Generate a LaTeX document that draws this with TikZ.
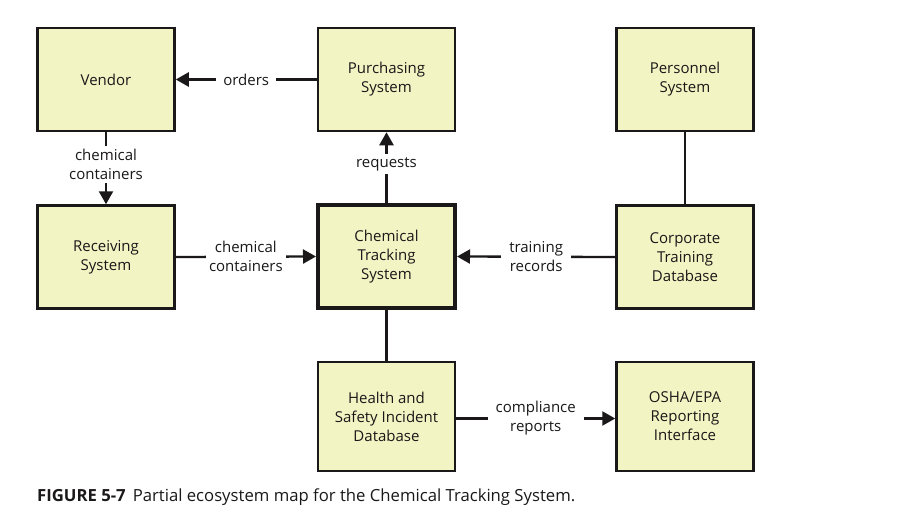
\documentclass[tikz,border=0pt]{standalone}
\usepackage{fontspec}
\setmainfont{Open Sans}
\usetikzlibrary{arrows.meta}
\definecolor{boxfill}{HTML}{F3F4C4}
\definecolor{ink}{HTML}{1A1818}
\tikzset{
  sysbox/.style={draw=ink, fill=boxfill, line width=2.5pt, minimum width=137pt, minimum height=103pt, inner sep=0pt,
    align=center, font=\fontsize{15}{19}\selectfont, text=ink},
  tallbox/.style={sysbox, minimum height=109pt},
  mainbox/.style={sysbox, line width=4pt},
  conn/.style={draw=ink, line width=2.3pt},
  arr/.style={conn, -{Triangle[length=13pt,width=14pt]}},
  lbl/.style={fill=white, inner sep=3pt, align=center, font=\fontsize{15}{19}\selectfont, text=ink}
}
\begin{document}
\begin{tikzpicture}[x=1pt,y=-1pt]
\useasboundingbox (0,0) rectangle (914,525);
\node[sysbox] (vendor) at (106,79.5) {Vendor};
\node[sysbox] (purch) at (386.5,79.5) {Purchasing\\System};
\node[sysbox] (pers) at (685,79.5) {Personnel\\System};
\node[sysbox] (recv) at (106,257) {Receiving\\System};
\node[mainbox] (cts) at (386.5,256.5) {Chemical\\Tracking\\System};
\node[sysbox] (corp) at (685,257) {Corporate\\Training\\Database};
\node[tallbox] (hsid) at (386.5,416.5) {Health and\\Safety Incident\\Database};
\node[tallbox] (osha) at (685,416.5) {OSHA/EPA\\Reporting\\Interface};

\draw[arr] (purch.west) -- node[lbl, inner xsep=7pt] {orders} (vendor.east);
\draw[arr] (vendor.south) -- node[lbl, pos=0.45] {chemical\\containers} (recv.north);
\draw[arr] (recv.east) -- node[lbl, pos=0.5] {chemical\\containers} (cts.west);
\draw[arr] (cts.north) -- node[lbl, pos=0.55] {requests} (purch.south);
\draw[arr] (corp.west) -- node[lbl, inner xsep=8pt, pos=0.5] {training\\records} (cts.east);
\draw[conn] (pers.south) -- (corp.north);
\draw[conn] (cts.south) -- (hsid.north);
\draw[arr] ([yshift=-2pt]hsid.east) -- node[lbl, inner xsep=8pt, pos=0.5] {compliance\\reports} ([yshift=-2pt]osha.west);

\node[anchor=west, inner sep=0pt, text=ink, font=\fontsize{16.7}{20}\selectfont] (cap) at (37,497)
  {\textbf{FIGURE 5-7}\hspace{7pt}Partial ecosystem map for the Chemical Tracking System.};
\end{tikzpicture}
\end{document}
